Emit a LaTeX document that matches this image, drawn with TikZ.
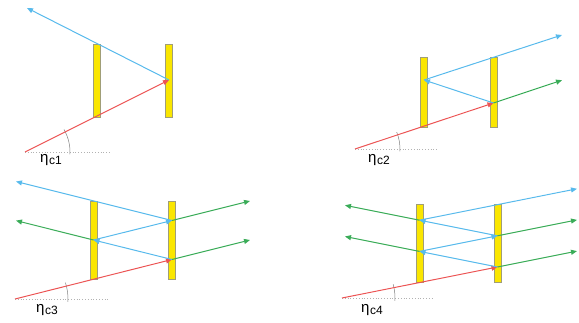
\documentclass[tikz,border=0pt]{standalone}
\usepackage{fontspec}
\setmainfont{Liberation Sans}
\usetikzlibrary{arrows.meta}

\definecolor{rayred}{RGB}{236,84,84}
\definecolor{rayblue}{RGB}{88,186,236}
\definecolor{raygreen}{RGB}{58,172,88}
\definecolor{mirroryellow}{RGB}{250,230,0}
\definecolor{mirrorgray}{RGB}{160,158,120}

\tikzset{
  mirror/.style={draw=mirrorgray, fill=mirroryellow, line width=0.6pt, minimum width=7pt, inner sep=0pt},
  ray/.style={->, line width=1pt},
  baseline/.style={draw=gray!60, dotted, line width=0.8pt},
  anglearc/.style={draw=gray, line width=0.5pt}
}

\newcommand{\etalabel}[1]{\fontsize{15}{15}\selectfont η\kern0.5pt\raisebox{-2.5pt}{\fontsize{12}{12}\selectfont c#1}}

\begin{document}
\begin{tikzpicture}[x=1pt, y=1pt, yscale=-1, >={Triangle[length=6pt, width=5pt]}]
    \useasboundingbox (0,0) rectangle (579,323);

    % Case 1
    \node[mirror, minimum height=73pt] (L1) at (96.5,80.5) {};
    \node[mirror, minimum height=73pt] (R1) at (169,80.5) {};
    \coordinate (S1) at (25,152);
    \coordinate (P1) at (169,80);
    \coordinate (B1) at (27,8);
    \coordinate (D1) at (110,152);
    \node (eta1) at (51,160) {\etalabel{1}};

    \draw[baseline] (S1) -- (D1);
    \draw[anglearc] (S1) ++(3:45) arc[start angle=3, end angle=-30, radius=45pt];
    \draw[ray, rayred] (S1) -- (P1);
    \draw[ray, rayblue] (P1) -- (B1);

    % Case 2
    \node[mirror, minimum height=70pt] (L2) at (424,92) {};
    \node[mirror, minimum height=70pt] (R2) at (493.5,92) {};
    \coordinate (S2) at (355,149);
    \coordinate (P2) at (493.5,103);
    \coordinate (Q2) at (424,80);
    \coordinate (B2) at (562,35);
    \coordinate (G2) at (562,80.2);
    \coordinate (D2) at (437,149);
    \node (eta2) at (379,160) {\etalabel{2}};

    \draw[baseline] (S2) -- (D2);
    \draw[anglearc] (S2) ++(3:45) arc[start angle=3, end angle=-22, radius=45pt];
    \draw[ray, rayred] (S2) -- (P2);
    \draw[ray, rayblue] (P2) -- (Q2);
    \draw[ray, rayblue] (Q2) -- (B2);
    \draw[ray, raygreen] (P2) -- (G2);

    % Case 3
    \node[mirror, minimum height=78pt] (L3) at (93.5,240) {};
    \node[mirror, minimum height=78pt] (R3) at (172,240) {};
    \coordinate (S3) at (15,299);
    \coordinate (P3) at (172,259.5);
    \coordinate (Q3) at (93.5,240);
    \coordinate (P3b) at (172,220.5);
    \coordinate (B3) at (16,181.5);
    \coordinate (G3a) at (16,220.6);
    \coordinate (G3b) at (250,240);
    \coordinate (G3c) at (250,201);
    \coordinate (D3) at (108,299);
    \node (eta3) at (47,310) {\etalabel{3}};

    \draw[baseline] (S3) -- (D3);
    \draw[anglearc] (S3) ++(3:53) arc[start angle=3, end angle=-18, radius=53pt];
    \draw[ray, rayred] (S3) -- (P3);
    \draw[ray, rayblue] (P3) -- (Q3);
    \draw[ray, rayblue] (Q3) -- (P3b);
    \draw[ray, rayblue] (P3b) -- (B3);
    \draw[ray, raygreen] (Q3) -- (G3a);
    \draw[ray, raygreen] (P3) -- (G3b);
    \draw[ray, raygreen] (P3b) -- (G3c);

    % Case 4
    \node[mirror, minimum height=78pt] (L4) at (419.5,243) {};
    \node[mirror, minimum height=78pt] (R4) at (497.5,243) {};
    \coordinate (S4) at (342,298);
    \coordinate (P4) at (497.5,267);
    \coordinate (Q4) at (419.5,251.4);
    \coordinate (P4b) at (497.5,235.8);
    \coordinate (Q4b) at (419.5,220.2);
    \coordinate (B4) at (577,188.8);
    \coordinate (G4a) at (345,205.3);
    \coordinate (G4b) at (345,236.5);
    \coordinate (G4c) at (577,251.1);
    \coordinate (G4d) at (577,219.9);
    \coordinate (D4) at (433,298);
    \node (eta4) at (372,310) {\etalabel{4}};

    \draw[baseline] (S4) -- (D4);
    \draw[anglearc] (S4) ++(3:53) arc[start angle=3, end angle=-15, radius=53pt];
    \draw[ray, rayred] (S4) -- (P4);
    \draw[ray, rayblue] (P4) -- (Q4);
    \draw[ray, rayblue] (Q4) -- (P4b);
    \draw[ray, rayblue] (P4b) -- (Q4b);
    \draw[ray, rayblue] (Q4b) -- (B4);
    \draw[ray, raygreen] (Q4b) -- (G4a);
    \draw[ray, raygreen] (Q4) -- (G4b);
    \draw[ray, raygreen] (P4) -- (G4c);
    \draw[ray, raygreen] (P4b) -- (G4d);

\end{tikzpicture}
\end{document}
